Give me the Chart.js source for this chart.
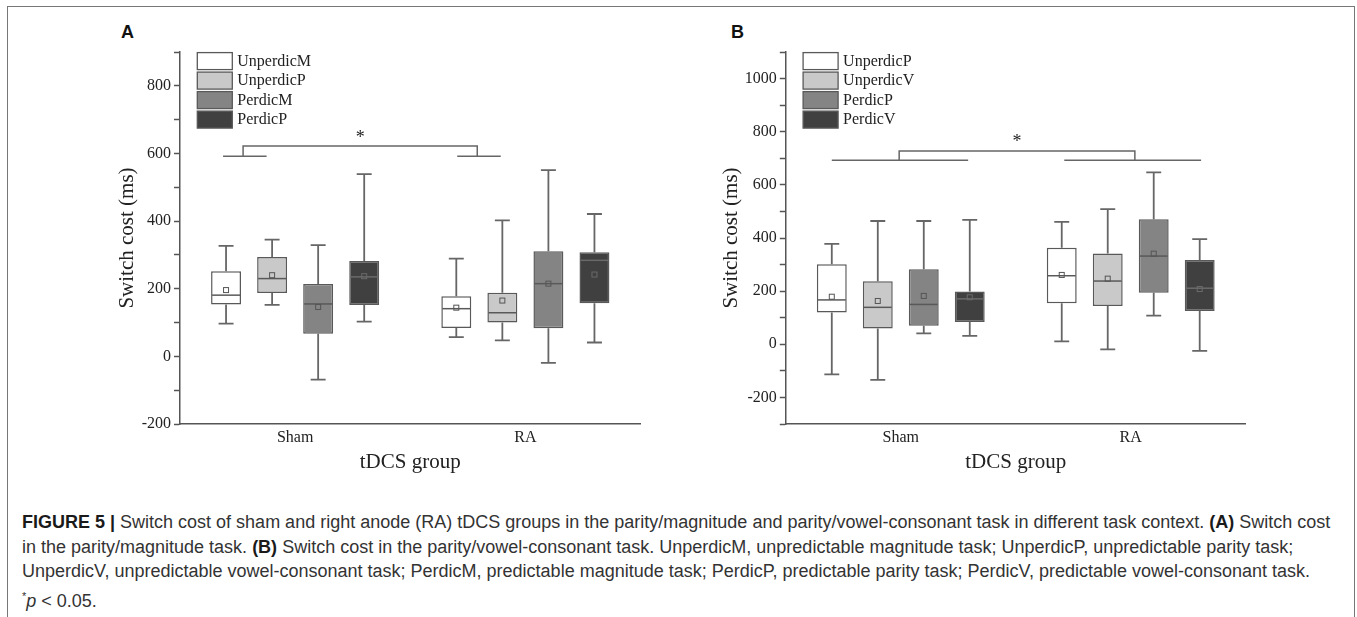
<!DOCTYPE html>
<html>
<head>
<meta charset="utf-8">
<script src="https://cdn.jsdelivr.net/npm/chart.js@4.4.1/dist/chart.umd.min.js"></script>
<style>
  body { margin: 0; background: #fff; width: 1357px; height: 617px; overflow: hidden; position: relative; }
  .frame { position: absolute; left: 7px; top: 6px; width: 1346px; height: 700px; border: 1.5px solid #777; }
  .panel { position: absolute; top: 20px; }
  .letter { position: absolute; top: 23px; font: bold 18px 'Liberation Sans', Arial, sans-serif; line-height: 18px; color: #111; }
  .caption { position: absolute; left: 22px; top: 510px; font-family: 'Liberation Sans', Arial, sans-serif; font-size: 18px; line-height: 24.7px; color: #333; white-space: nowrap; }
  .caption b { color: #1a1a1a; }
</style>
</head>
<body>
<div class="frame"></div>
<div class="letter" style="left:121px">A</div>
<div class="letter" style="left:731px">B</div>
<div class="panel" style="left:100px"><canvas id="chartA" width="560" height="460"></canvas></div>
<div class="panel" style="left:705px"><canvas id="chartB" width="560" height="460"></canvas></div>
<div class="caption">
<b>FIGURE 5 |</b> Switch cost of sham and right anode (RA) tDCS groups in the parity/magnitude and parity/vowel-consonant task in different task context. <b>(A)</b> Switch cost<br>
in the parity/magnitude task. <b>(B)</b> Switch cost in the parity/vowel-consonant task. UnperdicM, unpredictable magnitude task; UnperdicP, unpredictable parity task;<br>
UnperdicV, unpredictable vowel-consonant task; PerdicM, predictable magnitude task; PerdicP, predictable parity task; PerdicV, predictable vowel-consonant task.<br>
<sup style="font-size:11px">*</sup><i>p</i> &lt; 0.05.
</div>
<script>
// groups on the x axis
const groups = ['Sham', 'RA'];

// panel A - parity/magnitude task (values per group: Sham, RA)
const a_unperdicM = { min: [97, 57], q1: [153, 84], median: [181, 141], q3: [252, 178], max: [327, 289], mean: [196, 144] };
const a_unperdicP = { min: [152, 47], q1: [187, 100], median: [230, 129], q3: [294, 188], max: [345, 402], mean: [240, 165] };
const a_perdicM   = { min: [-69, -19], q1: [67, 83], median: [155, 215], q3: [214, 311], max: [329, 551], mean: [146, 215] };
const a_perdicP   = { min: [103, 41], q1: [152, 157], median: [235, 284], q3: [282, 308], max: [539, 421], mean: [237, 242] };

// panel B - parity/vowel-consonant task
const b_unperdicP = { min: [-113, 11], q1: [120, 154], median: [167, 258], q3: [301, 363], max: [378, 461], mean: [179, 261] };
const b_unperdicV = { min: [-134, -19], q1: [59, 144], median: [139, 238], q3: [237, 342], max: [464, 509], mean: [163, 247] };
const b_perdicP   = { min: [41, 108], q1: [70, 194], median: [150, 332], q3: [282, 471], max: [464, 647], mean: [182, 341] };
const b_perdicV   = { min: [32, -25], q1: [84, 125], median: [171, 211], q3: [199, 317], max: [468, 396], mean: [177, 208] };

// y tick labels
const yTicksA = [-200, 0, 200, 400, 600, 800];
const yTicksB = [-200, 0, 200, 400, 600, 800, 1000];

const fills = ['#ffffff', '#c9c9c9', '#848484', '#404040'];
const edge = '#595959';
const serif = "'Liberation Serif', 'Times New Roman', serif";

function boxDataset(label, stats, i) {
  return {
    label: label,
    data: stats.q1.map((q, j) => [q, stats.q3[j]]),
    stats: stats,
    backgroundColor: fills[i],
    borderColor: edge,
    borderWidth: 1.5,
    borderSkipped: false,
    categoryPercentage: 0.8,
    barPercentage: 0.65
  };
}

// whiskers, medians, means, legend and the significance bracket
const boxExtras = {
  id: 'boxExtras',
  beforeDatasetsDraw(chart) {
    const {ctx, scales: {y}} = chart;
    ctx.save();
    ctx.strokeStyle = '#666';
    ctx.lineWidth = 1.8;
    chart.data.datasets.forEach((ds, i) => {
      chart.getDatasetMeta(i).data.forEach((bar, j) => {
        const s = ds.stats, cap = bar.width / 4;
        const pts = [[s.q3[j], s.max[j]], [s.q1[j], s.min[j]]];
        pts.forEach(([from, to]) => {
          const y0 = y.getPixelForValue(from), y1 = y.getPixelForValue(to);
          ctx.beginPath();
          ctx.moveTo(bar.x, y0); ctx.lineTo(bar.x, y1);
          ctx.moveTo(bar.x - cap, y1); ctx.lineTo(bar.x + cap, y1);
          ctx.stroke();
        });
      });
    });
    ctx.restore();
  },
  afterDatasetsDraw(chart) {
    const {ctx, scales: {y}} = chart;
    ctx.save();
    chart.data.datasets.forEach((ds, i) => {
      chart.getDatasetMeta(i).data.forEach((bar, j) => {
        const s = ds.stats, hw = bar.width / 2;
        const ym = y.getPixelForValue(s.median[j]);
        ctx.strokeStyle = i === 3 ? '#6a6a6a' : edge;
        ctx.lineWidth = 1.5;
        ctx.beginPath();
        ctx.moveTo(bar.x - hw + 1, ym); ctx.lineTo(bar.x + hw - 1, ym);
        ctx.stroke();
        const yMean = y.getPixelForValue(s.mean[j]);
        ctx.lineWidth = 1;
        ctx.strokeStyle = i === 3 ? '#6a6a6a' : '#555';
        ctx.strokeRect(bar.x - 2.5, yMean - 2.5, 5, 5);
      });
    });
    ctx.restore();
  },
  afterDraw(chart, args, opts) {
    const {ctx, chartArea, scales: {x, y}} = chart;
    ctx.save();
    // legend
    const lx = chartArea.left + 17.3;
    chart.data.datasets.forEach((ds, i) => {
      const ly = chartArea.top + 0.6 + i * 19.5;
      ctx.fillStyle = ds.backgroundColor;
      ctx.fillRect(lx, ly, 35, 17);
      ctx.strokeStyle = edge;
      ctx.lineWidth = 1.3;
      ctx.strokeRect(lx, ly, 35, 17);
      ctx.fillStyle = '#222';
      ctx.font = '16px ' + serif;
      ctx.textBaseline = 'middle';
      ctx.fillText(ds.label, lx + 40, ly + 9);
    });
    // bracket
    const b = opts.bracket;
    const px = v => x.getPixelForValue(v);
    const yb = y.getPixelForValue(b.base), yt = y.getPixelForValue(b.top);
    ctx.strokeStyle = '#666';
    ctx.lineWidth = 1.5;
    ctx.beginPath();
    ctx.moveTo(px(b.left[0]), yb); ctx.lineTo(px(b.left[1]), yb);
    ctx.moveTo(px(b.right[0]), yb); ctx.lineTo(px(b.right[1]), yb);
    ctx.moveTo(px(b.left[2]), yb); ctx.lineTo(px(b.left[2]), yt);
    ctx.lineTo(px(b.right[2]), yt); ctx.lineTo(px(b.right[2]), yb);
    ctx.stroke();
    ctx.fillStyle = '#222';
    ctx.font = '18px ' + serif;
    ctx.textAlign = 'center';
    ctx.textBaseline = 'alphabetic';
    ctx.fillText('*', (px(b.left[2]) + px(b.right[2])) / 2, y.getPixelForValue(b.star) + 8.3);
    ctx.restore();
  }
};

function makeOptions(ymin, ymax, labels, bracket, yWidth, padRight) {
  return {
    responsive: false,
    animation: false,
    layout: { padding: { top: 32, right: padRight, bottom: 0, left: 0 } },
    plugins: { legend: { display: false }, tooltip: { enabled: false }, boxExtras: { bracket: bracket } },
    scales: {
      x: {
        grid: { display: false, drawTicks: false },
        border: { display: true, color: '#555', width: 1.5 },
        ticks: { font: { family: serif, size: 16 }, color: '#222', padding: 4 },
        title: { display: true, text: 'tDCS group', font: { family: serif, size: 21 }, color: '#222', padding: { top: 0, bottom: 5 } },
        afterFit(scale) { scale.height = 56; }
      },
      y: {
        min: ymin, max: ymax,
        ticks: {
          stepSize: 100, autoSkip: false, maxTicksLimit: 40, padding: 3,
          font: { family: serif, size: 16 }, color: '#222',
          callback: v => labels.includes(v) ? String(v) : ''
        },
        grid: { drawOnChartArea: false, drawTicks: true, tickLength: 6, color: '#555', tickWidth: 1.5 },
        border: { display: true, color: '#555', width: 1.5 },
        title: { display: true, text: 'Switch cost (ms)', font: { family: serif, size: 21 }, color: '#222', padding: { top: 0, bottom: 0 } },
        afterFit(scale) { scale.width = yWidth; }
      }
    }
  };
}

const ctxA = document.getElementById('chartA');
if (ctxA) {
  const opts = makeOptions(-200, 900, yTicksA,
    { left: [-0.313, -0.124, -0.226], right: [0.704, 0.893, 0.791], base: 592, top: 622, star: 654 }, 80, 19.5);
  opts.scales.y.title.padding = { top: 15, bottom: 0 };
  new Chart(ctxA, {
    type: 'bar',
    data: {
      labels: groups,
      datasets: [
        boxDataset('UnperdicM', a_unperdicM, 0),
        boxDataset('UnperdicP', a_unperdicP, 1),
        boxDataset('PerdicM', a_perdicM, 2),
        boxDataset('PerdicP', a_perdicP, 3)
      ]
    },
    options: opts,
    plugins: [boxExtras]
  });
}

const ctxB = document.getElementById('chartB');
if (ctxB) {
  const opts = makeOptions(-300, 1100, yTicksB,
    { left: [-0.3, 0.293, -0.007], right: [0.711, 1.306, 1.018], base: 693, top: 727, star: 772 }, 80.8, 19.3);
  opts.scales.y.title.padding = { top: 13.4, bottom: 0 };
  new Chart(ctxB, {
    type: 'bar',
    data: {
      labels: groups,
      datasets: [
        boxDataset('UnperdicP', b_unperdicP, 0),
        boxDataset('UnperdicV', b_unperdicV, 1),
        boxDataset('PerdicP', b_perdicP, 2),
        boxDataset('PerdicV', b_perdicV, 3)
      ]
    },
    options: opts,
    plugins: [boxExtras]
  });
}
</script>
</body>
</html>
